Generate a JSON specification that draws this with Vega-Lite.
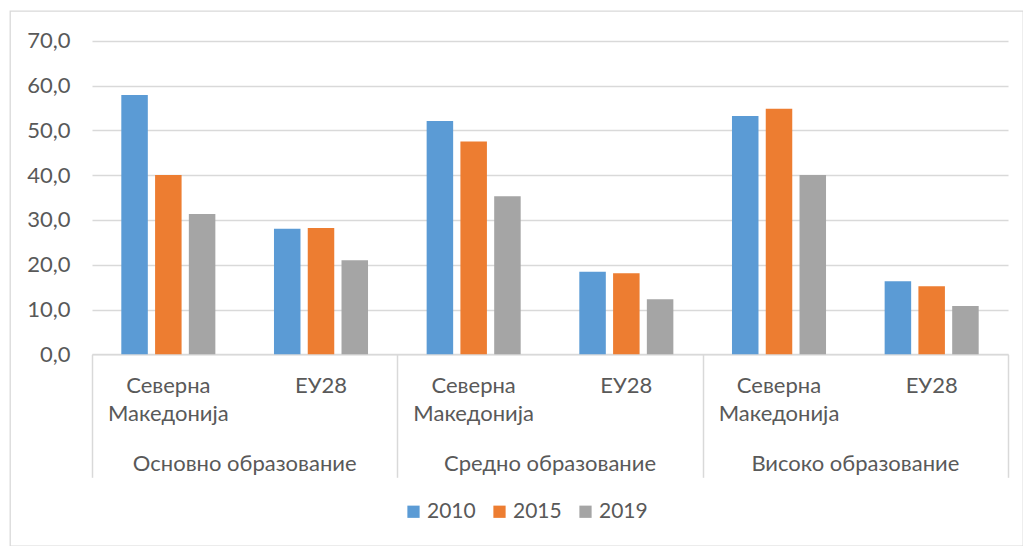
{
  "$schema": "https://vega.github.io/schema/vega-lite/v6.json",
  "width": 1013,
  "height": 535,
  "autosize": {"type": "none"},
  "padding": {"left": 10, "top": 11, "right": 0, "bottom": 0},
  "background": "white",
  "config": {
    "font": "Lato",
    "view": {"stroke": "#d9d9d9", "strokeWidth": 1.3},
    "axis": {"labelColor": "#595959", "labelFont": "Lato", "labelFontSize": 22, "title": null, "labelLimit": 500},
    "legend": {"labelFont": "Lato"}
  },
  "data": {
    "values": [
      {"cat": "Основно образование | Северна Македонија", "group": "Основно образование", "country": "Северна Македонија", "year": "2010", "value": 57.9},
      {"cat": "Основно образование | Северна Македонија", "group": "Основно образование", "country": "Северна Македонија", "year": "2015", "value": 40.0},
      {"cat": "Основно образование | Северна Македонија", "group": "Основно образование", "country": "Северна Македонија", "year": "2019", "value": 31.3},
      {"cat": "Основно образование | ЕУ28", "group": "Основно образование", "country": "ЕУ28", "year": "2010", "value": 28.0},
      {"cat": "Основно образование | ЕУ28", "group": "Основно образование", "country": "ЕУ28", "year": "2015", "value": 28.2},
      {"cat": "Основно образование | ЕУ28", "group": "Основно образование", "country": "ЕУ28", "year": "2019", "value": 21.0},
      {"cat": "Средно образование | Северна Македонија", "group": "Средно образование", "country": "Северна Македонија", "year": "2010", "value": 52.1},
      {"cat": "Средно образование | Северна Македонија", "group": "Средно образование", "country": "Северна Македонија", "year": "2015", "value": 47.5},
      {"cat": "Средно образование | Северна Македонија", "group": "Средно образование", "country": "Северна Македонија", "year": "2019", "value": 35.3},
      {"cat": "Средно образование | ЕУ28", "group": "Средно образование", "country": "ЕУ28", "year": "2010", "value": 18.4},
      {"cat": "Средно образование | ЕУ28", "group": "Средно образование", "country": "ЕУ28", "year": "2015", "value": 18.1},
      {"cat": "Средно образование | ЕУ28", "group": "Средно образование", "country": "ЕУ28", "year": "2019", "value": 12.3},
      {"cat": "Високо образование | Северна Македонија", "group": "Високо образование", "country": "Северна Македонија", "year": "2010", "value": 53.2},
      {"cat": "Високо образование | Северна Македонија", "group": "Високо образование", "country": "Северна Македонија", "year": "2015", "value": 54.8},
      {"cat": "Високо образование | Северна Македонија", "group": "Високо образование", "country": "Северна Македонија", "year": "2019", "value": 40.0},
      {"cat": "Високо образование | ЕУ28", "group": "Високо образование", "country": "ЕУ28", "year": "2010", "value": 16.3},
      {"cat": "Високо образование | ЕУ28", "group": "Високо образование", "country": "ЕУ28", "year": "2015", "value": 15.2},
      {"cat": "Високо образование | ЕУ28", "group": "Високо образование", "country": "ЕУ28", "year": "2019", "value": 10.8}
    ]
  },
  "layer": [
    {
      "mark": {"type": "bar"},
      "encoding": {
        "x": {
          "field": "cat", "type": "nominal", "sort": null,
          "scale": {"range": [82, 998], "paddingInner": 0.384, "paddingOuter": 0.192},
          "axis": {
            "orient": "bottom", "offset": -191.7, "domain": true, "domainColor": "#d9d9d9", "domainWidth": 1.5,
            "ticks": false, "grid": false, "labelAngle": 0, "labelPadding": 21, "labelLineHeight": 28,
            "labelExpr": "indexof(datum.value, 'Северна') >= 0 ? ['Северна', 'Македонија'] : 'ЕУ28'",
            "title": null
          }
        },
        "xOffset": {"field": "year", "type": "nominal", "scale": {"paddingInner": 0.215, "paddingOuter": 0}},
        "y": {
          "field": "value", "type": "quantitative",
          "scale": {"domain": [0, 70], "range": [343.3, 29.7], "nice": false},
          "axis": {
            "offset": -82, "values": [0, 10, 20, 30, 40, 50, 60, 70],
            "labelExpr": "replace(format(datum.value, '.1f'), '.', ',')",
            "domain": false, "ticks": false, "grid": true, "gridColor": "#d9d9d9", "gridWidth": 1.5,
            "labelPadding": 22, "title": null
          }
        },
        "color": {
          "field": "year", "type": "nominal",
          "scale": {"range": ["#5b9bd5", "#ed7d31", "#a5a5a5"]},
          "legend": {
            "orient": "none", "legendX": 393, "legendY": 490, "direction": "horizontal", "title": null,
            "symbolType": "square", "symbolSize": 150, "symbolStrokeWidth": 0,
            "labelFontSize": 21, "labelColor": "#595959", "columnPadding": 13, "labelOffset": 3, "padding": 0
          }
        }
      }
    },
    {
      "mark": {"type": "bar", "opacity": 0},
      "encoding": {
        "x": {
          "field": "cat", "type": "nominal", "sort": null,
          "axis": {
            "orient": "bottom", "offset": -191.7,
            "values": ["Основно образование | Северна Македонија"],
            "tickOffset": -76.35, "ticks": true, "tickSize": 123, "tickColor": "#d9d9d9", "tickWidth": 1.5,
            "labels": false, "domain": false, "grid": false, "title": null
          }
        }
      }
    },
    {
      "mark": {"type": "bar", "opacity": 0},
      "encoding": {
        "x": {
          "field": "cat", "type": "nominal", "sort": null,
          "axis": {
            "orient": "bottom", "offset": -191.7,
            "values": ["Основно образование | ЕУ28", "Средно образование | ЕУ28", "Високо образование | ЕУ28"],
            "tickOffset": 76.35, "ticks": true, "tickSize": 123, "tickColor": "#d9d9d9", "tickWidth": 1.5,
            "labels": false, "domain": false, "grid": false, "title": null
          }
        }
      }
    },
    {
      "mark": {"type": "bar", "opacity": 0},
      "encoding": {
        "x": {
          "field": "cat", "type": "nominal", "sort": null,
          "axis": {
            "orient": "bottom", "offset": -191.7,
            "values": ["Основно образование | Северна Македонија", "Средно образование | Северна Македонија", "Високо образование | Северна Македонија"],
            "labelOffset": 76.35, "ticks": false, "domain": false, "grid": false,
            "labelAngle": 0, "labelPadding": 99,
            "labelExpr": "split(datum.value, ' | ')[0]",
            "title": null
          }
        }
      }
    }
  ],
  "resolve": {"axis": {"x": "independent"}}
}
